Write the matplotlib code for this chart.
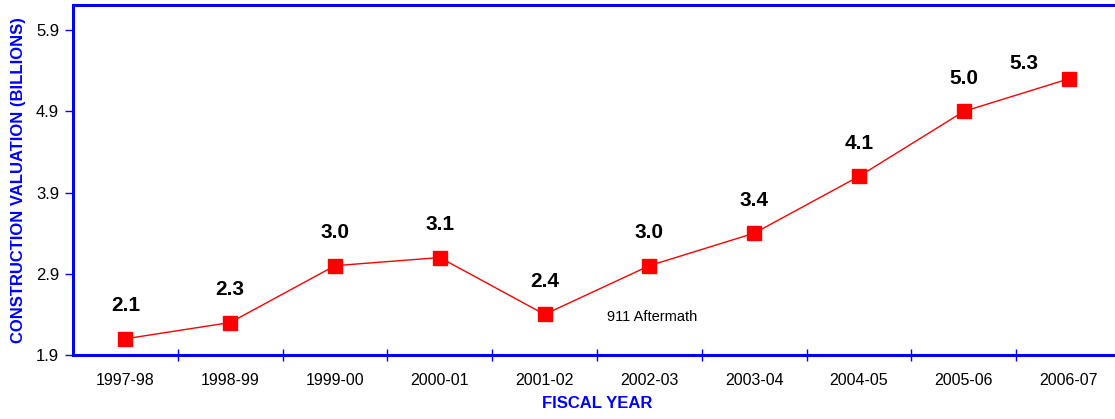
import matplotlib
matplotlib.use("Agg")
import matplotlib.pyplot as plt
import numpy as np

plt.rcParams['font.family'] = ['Liberation Sans', 'DejaVu Sans']

years = ["1997-98", "1998-99", "1999-00", "2000-01", "2001-02",
         "2002-03", "2003-04", "2004-05", "2005-06", "2006-07"]
values = [2.1, 2.3, 3.0, 3.1, 2.4, 3.0, 3.4, 4.1, 4.9, 5.3]
labels = ["2.1", "2.3", "3.0", "3.1", "2.4", "3.0", "3.4", "4.1", "5.0", "5.3"]
yticks = [1.9, 2.9, 3.9, 4.9, 5.9]

BLUE = "#0000FF"
RED = "#FF0000"

fig = plt.figure(figsize=(11.15, 4.19), dpi=100)
ax = fig.add_axes([73/1115, 1-355/419, 1048/1115, 350/419])

x = np.arange(len(years))
ax.plot(x, values, color=RED, lw=1, marker='s', markersize=10,
        markerfacecolor=RED, markeredgecolor=RED, zorder=3)

for i, (v, lab) in enumerate(zip(values, labels)):
    if i == len(values) - 1:
        off = (-45, 15)
    else:
        off = (0, 33)
    ax.annotate(lab, (i, v), xytext=off, textcoords='offset pixels',
                ha='center', va='center', fontsize=15, fontweight='bold',
                color='black')

ax.annotate("911 Aftermath", (4, values[4]), xytext=(108, -3),
            textcoords='offset pixels', ha='center', va='center',
            fontsize=10.5, color='black')

ax.set_xlim(-0.5, len(years) - 0.5)
ax.set_ylim(1.9, 6.21)
ax.set_yticks(yticks)
ax.set_yticklabels([f"{t:.1f}" for t in yticks])

ax.set_xticks(x)
ax.set_xticklabels(years)
ax.set_xticks(np.arange(0.5, len(years) - 0.5, 1.0), minor=True)
ax.tick_params(axis='x', which='major', length=0, pad=13, labelsize=11.5,
               labelcolor='black')
ax.tick_params(axis='x', which='minor', length=9, direction='inout',
               width=1, color=BLUE)
ax.tick_params(axis='y', which='major', length=6, direction='out', width=1,
               color=BLUE, pad=4, labelsize=12, labelcolor='black')

for side in ['left', 'bottom', 'top']:
    ax.spines[side].set_color(BLUE)
    ax.spines[side].set_linewidth(2.2)
ax.spines['right'].set_visible(False)

ax.set_xlabel("FISCAL YEAR", fontsize=12, fontweight='bold', color=BLUE,
              labelpad=6)
ax.set_ylabel("CONSTRUCTION VALUATION (BILLIONS)", fontsize=12,
              fontweight='bold', color=BLUE, labelpad=7)

fig.savefig("out.png", dpi=100)
